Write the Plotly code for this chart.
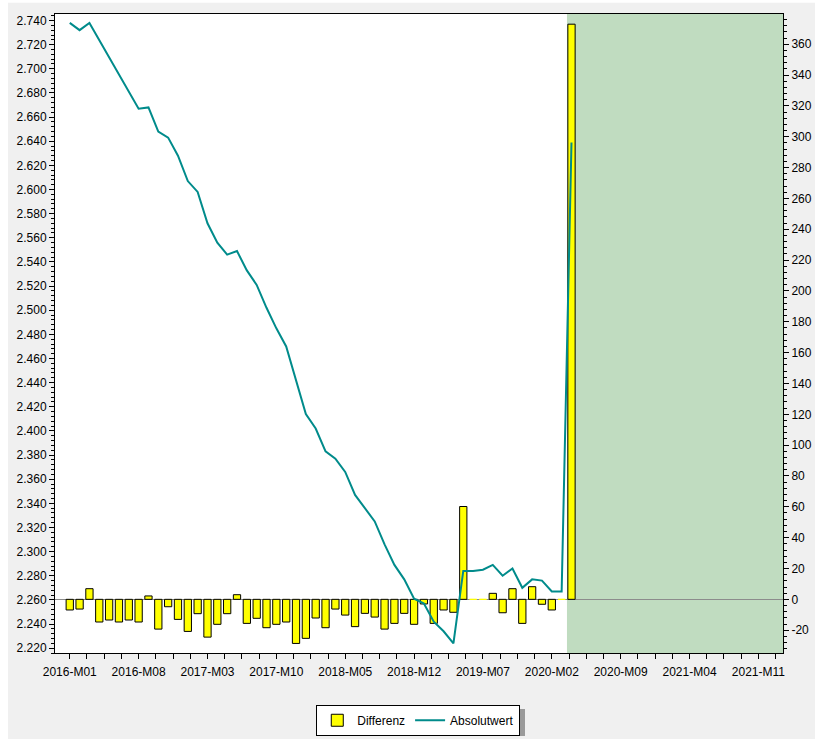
import plotly.graph_objects as go

# Categories: monthly periods shown on the x axis (2016-M01 ... 2022-M01)
months = [f"{y}-M{m:02d}" for y in range(2016, 2023) for m in range(1, 13)][:73]

# Differenz (monthly change, right axis)
differenz = [-6.9, -6.3, 6.9, -14.7, -13.4, -14.7, -13.4, -14.7, 2.2, -19.3,
             -4.8, -13.0, -20.8, -9.3, -24.5, -16.2, -9.3, 3.0, -15.6, -12.3,
             -18.4, -16.2, -14.7, -28.6, -25.3, -12.1, -18.4, -6.3, -10.2, -17.7,
             -9.1, -11.5, -19.3, -15.6, -9.1, -16.2, -3.0, -15.6, -6.9, -8.4,
             60.2, 0.0, 0.0, 3.9, -8.7, 6.9, -15.6, 8.2, -3.2, -6.9,
             0.0, 373.0]

# Absolutwert (left axis)
absolutwert = [2.738, 2.732, 2.738, 2.724, 2.710, 2.696, 2.682, 2.667, 2.668, 2.648,
               2.643, 2.628, 2.607, 2.598, 2.572, 2.556, 2.546, 2.549, 2.533, 2.521,
               2.502, 2.485, 2.470, 2.441, 2.414, 2.402, 2.383, 2.377, 2.366, 2.347,
               2.336, 2.325, 2.306, 2.289, 2.277, 2.261, 2.257, 2.242, 2.234, 2.224,
               2.284, 2.284, 2.285, 2.289, 2.280, 2.286, 2.270, 2.277, 2.276, 2.267,
               2.267, 2.639]

forecast_start = "2020-M04"
label_step = 7

idx = list(range(len(months)))
x_data = idx[:len(differenz)]
tick_idx = idx[::label_step]
tick_text = [months[i] for i in tick_idx]

right_ticks = list(range(-20, 361, 20))
right_text = [str(v) for v in right_ticks]

bar_line_colors = ["#FFFF00" if v == 0 else "#000000" for v in differenz]

fig = go.Figure()
fig.add_trace(go.Bar(
    x=x_data, y=differenz, name="Differenz", yaxis="y",
    width=0.74,
    marker=dict(color="#FFFF00", line=dict(color=bar_line_colors, width=1)),
))
fig.add_trace(go.Scatter(
    x=x_data, y=absolutwert, name="Absolutwert", yaxis="y2",
    mode="lines", line=dict(color="#008B8B", width=2),
))

x_lo, x_hi = -1.5, len(months) - 0.5
fs = months.index(forecast_start) - 0.46

font = dict(family="Arial, Liberation Sans, sans-serif", size=12, color="#000000")

fig.update_layout(
    width=815, height=739,
    margin=dict(l=55, r=32, t=14, b=86, autoexpand=False),
    paper_bgcolor="#F0F0F0",
    plot_bgcolor="#FFFFFF",
    font=font,
    showlegend=True,
    legend=dict(
        orientation="h", x=0.499, xanchor="center", y=-0.081, yanchor="top",
        bgcolor="#FFFFFF", bordercolor="#000000", borderwidth=1,
        font=dict(family="Arial, Liberation Sans, sans-serif", size=12, color="#000000"),
        itemwidth=30,
    ),
    xaxis=dict(
        range=[x_lo, x_hi], tickmode="array", tickvals=tick_idx, ticktext=tick_text,
        ticks="outside", ticklen=5, tickcolor="#000000", ticklabelstandoff=3,
        showline=True, linecolor="#000000", linewidth=1, mirror=True,
        showgrid=False, zeroline=False, automargin=False,
        minor=dict(tickmode="array", tickvals=[i * 1.75 for i in range(0, 42)],
                   ticks="outside", ticklen=5, tickcolor="#000000", showgrid=False),
    ),
    yaxis=dict(
        side="right", range=[-34.8, 379.6], automargin=False,
        tickmode="array", tickvals=right_ticks, ticktext=right_text,
        ticks="outside", ticklen=5, tickcolor="#000000",
        showline=True, linecolor="#000000", linewidth=1,
        showgrid=False, zeroline=True, zerolinecolor="#8C8C8C", zerolinewidth=1,
        minor=dict(dtick=4, tick0=0, ticks="outside", ticklen=3, tickcolor="#000000", showgrid=False),
    ),
    yaxis2=dict(
        overlaying="y", side="left", range=[2.2160, 2.7454], automargin=False,
        tickmode="linear", tick0=2.22, dtick=0.02, tickformat=".3f",
        ticks="outside", ticklen=5, tickcolor="#000000",
        showline=True, linecolor="#000000", linewidth=1,
        showgrid=False, zeroline=False,
        minor=dict(dtick=0.004, tick0=2.22, ticks="outside", ticklen=3, tickcolor="#000000", showgrid=False),
    ),
    shapes=[
        dict(type="rect", xref="paper", yref="paper", x0=-0.0756, x1=-0.0646, y0=-0.135, y1=1.03,
             fillcolor="#FFFFFF", line=dict(width=0), layer="below"),
        dict(type="rect", xref="paper", yref="paper", x0=-0.0756, x1=1.05, y0=1.0175, y1=1.03,
             fillcolor="#FFFFFF", line=dict(width=0), layer="below"),
        dict(type="rect", xref="x", yref="y domain", x0=fs, x1=x_hi, y0=0, y1=1,
             fillcolor="#C0DCC0", line=dict(width=0), layer="below"),
        # legend drop shadow
        dict(type="rect", xref="paper", yref="paper", x0=0.364, x1=0.6456, y0=-0.1299, y1=-0.0876,
             fillcolor="#9A9A9A", line=dict(width=0), layer="below"),
    ],
)

fig.write_html("out.html", config={"displayModeBar": False},
               post_script="document.body.style.margin='0';document.body.style.overflow='hidden';")
